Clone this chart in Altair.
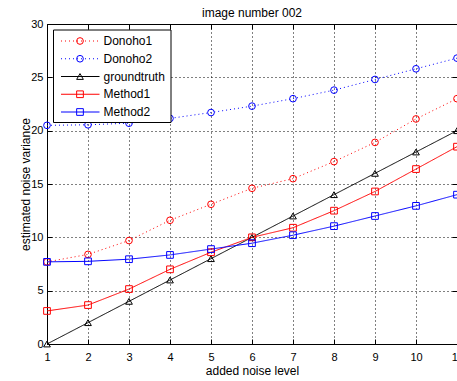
import altair as alt
import pandas as pd

levels = list(range(1, 12))
series_names = ["Donoho1", "Donoho2", "groundtruth", "Method1", "Method2"]
donoho1 = [7.7, 8.4, 9.7, 11.6, 13.1, 14.6, 15.5, 17.1, 18.9, 21.1, 23.0]
donoho2 = [20.5, 20.55, 20.7, 21.15, 21.7, 22.3, 23.0, 23.8, 24.8, 25.8, 26.8]
groundtruth = [0, 2, 4, 6, 8, 10, 12, 14, 16, 18, 20]
method1 = [3.1, 3.65, 5.15, 7.0, 8.6, 10.0, 10.9, 12.5, 14.3, 16.4, 18.5]
method2 = [7.7, 7.75, 7.95, 8.35, 8.9, 9.45, 10.2, 11.05, 12.0, 12.95, 14.0]
y_ticks = [0, 5, 10, 15, 20, 25, 30]

series_colors = ["#ff0000", "#0000ff", "#000000", "#ff0000", "#0000ff"]
series_shapes = ["circle", "circle", "triangle-up", "square", "square"]
series_dashes = [[1, 3], [1, 3], [1, 0], [1, 0], [1, 0]]
series_sizes = [45, 45, 70, 60, 60]

rows = []
for name, vals in zip(series_names, [donoho1, donoho2, groundtruth, method1, method2]):
    for lv, v in zip(levels, vals):
        rows.append({"level": lv, "variance": v, "series": name})
df = pd.DataFrame(rows)
legend_df = pd.DataFrame({"series": series_names})

FONT = "Liberation Sans"

color = alt.Color("series:N", scale=alt.Scale(domain=series_names, range=series_colors), legend=None)
shape = alt.Shape("series:N", scale=alt.Scale(domain=series_names, range=series_shapes), legend=None)
dash = alt.StrokeDash("series:N", scale=alt.Scale(domain=series_names, range=series_dashes), legend=None)
size = alt.Size("series:N", scale=alt.Scale(domain=series_names, range=series_sizes), legend=None)

x_scale = alt.Scale(domain=[1, 11], nice=False, zero=False)
y_scale = alt.Scale(domain=[0, 30], nice=False, zero=False)

x_axis_bottom = alt.Axis(
    orient="bottom", values=levels, grid=True, gridColor="black", gridDash=[1, 3], gridOpacity=1, gridWidth=1,
    domain=False, ticks=True, tickSize=5, tickColor="black", offset=-5,
    labelPadding=7, labelFontSize=11, labelColor="black", labelFont=FONT,
    labelFlush=False, labelOverlap=False,
    title="added noise level", titleFontSize=12, titleFontWeight="normal", titleFont=FONT,
    titleColor="black", titlePadding=3,
)
y_axis_left = alt.Axis(
    orient="left", values=y_ticks, grid=True, gridColor="black", gridDash=[1, 3], gridOpacity=1, gridWidth=1,
    domain=False, ticks=True, tickSize=5, tickColor="black", offset=-5,
    labelPadding=4, labelFontSize=11, labelColor="black", labelFont=FONT,
    labelFlush=False, labelOverlap=False,
    title="estimated noise variance", titleFontSize=12, titleFontWeight="normal", titleFont=FONT,
    titleColor="black", titlePadding=-2,
)
x_axis_top = alt.Axis(orient="top", values=levels, grid=False, domain=False, labels=False,
                      ticks=True, tickSize=5, tickColor="black", offset=-5, title=None)
y_axis_right = alt.Axis(orient="right", values=y_ticks, grid=False, domain=False, labels=False,
                        ticks=True, tickSize=5, tickColor="black", offset=-5, title=None)

lines = alt.Chart(df).mark_line(strokeWidth=1).encode(
    x=alt.X("level:Q", scale=x_scale, axis=x_axis_bottom),
    y=alt.Y("variance:Q", scale=y_scale, axis=y_axis_left),
    color=color,
    strokeDash=dash,
    detail="series:N",
)
points = alt.Chart(df).mark_point(filled=False, strokeWidth=1, opacity=1).encode(
    x=alt.X("level:Q", scale=x_scale, axis=x_axis_top),
    y=alt.Y("variance:Q", scale=y_scale, axis=y_axis_right),
    color=color,
    shape=shape,
    size=size,
)
main = alt.layer(lines, points).resolve_axis(x="independent", y="independent")

leg_y = alt.Y("series:N", scale=alt.Scale(type="point", domain=series_names, range=[17, 88], padding=0), axis=None)

leg_box = alt.Chart(alt.Data(values=[{"k": 1}])).mark_rect(
    fill="white", stroke="black", strokeWidth=1
).encode(x=alt.value(6.5), x2=alt.value(124), y=alt.value(6), y2=alt.value(98.5))
leg_rule = alt.Chart(legend_df).mark_rule(strokeWidth=1).encode(
    x=alt.value(14), x2=alt.value(52.5), y=leg_y, color=color, strokeDash=dash
)
leg_pts = alt.Chart(legend_df).mark_point(filled=False, strokeWidth=1, opacity=1).encode(
    x=alt.value(33), y=leg_y, color=color, shape=shape, size=size
)
leg_txt = alt.Chart(legend_df).mark_text(
    align="left", baseline="middle", fontSize=12, font=FONT, color="black"
).encode(x=alt.value(56.5), y=leg_y, text="series:N")
legend = alt.layer(leg_box, leg_rule, leg_pts, leg_txt)

chart = alt.layer(main, legend).resolve_scale(y="independent").properties(
    width=410,
    height=320,
    autosize=alt.AutoSizeParams(type="none"),
    padding={"left": 47, "top": 24, "right": 0, "bottom": 37},
    background="white",
    title=alt.TitleParams("image number 002", fontSize=12, fontWeight="normal", font=FONT,
                          color="black", anchor="middle", offset=5, baseline="alphabetic",
                          frame="group", dy=16),
).configure_view(stroke="black", strokeWidth=1)

chart.save("out.html", embed_options={"renderer": "svg", "actions": False})
